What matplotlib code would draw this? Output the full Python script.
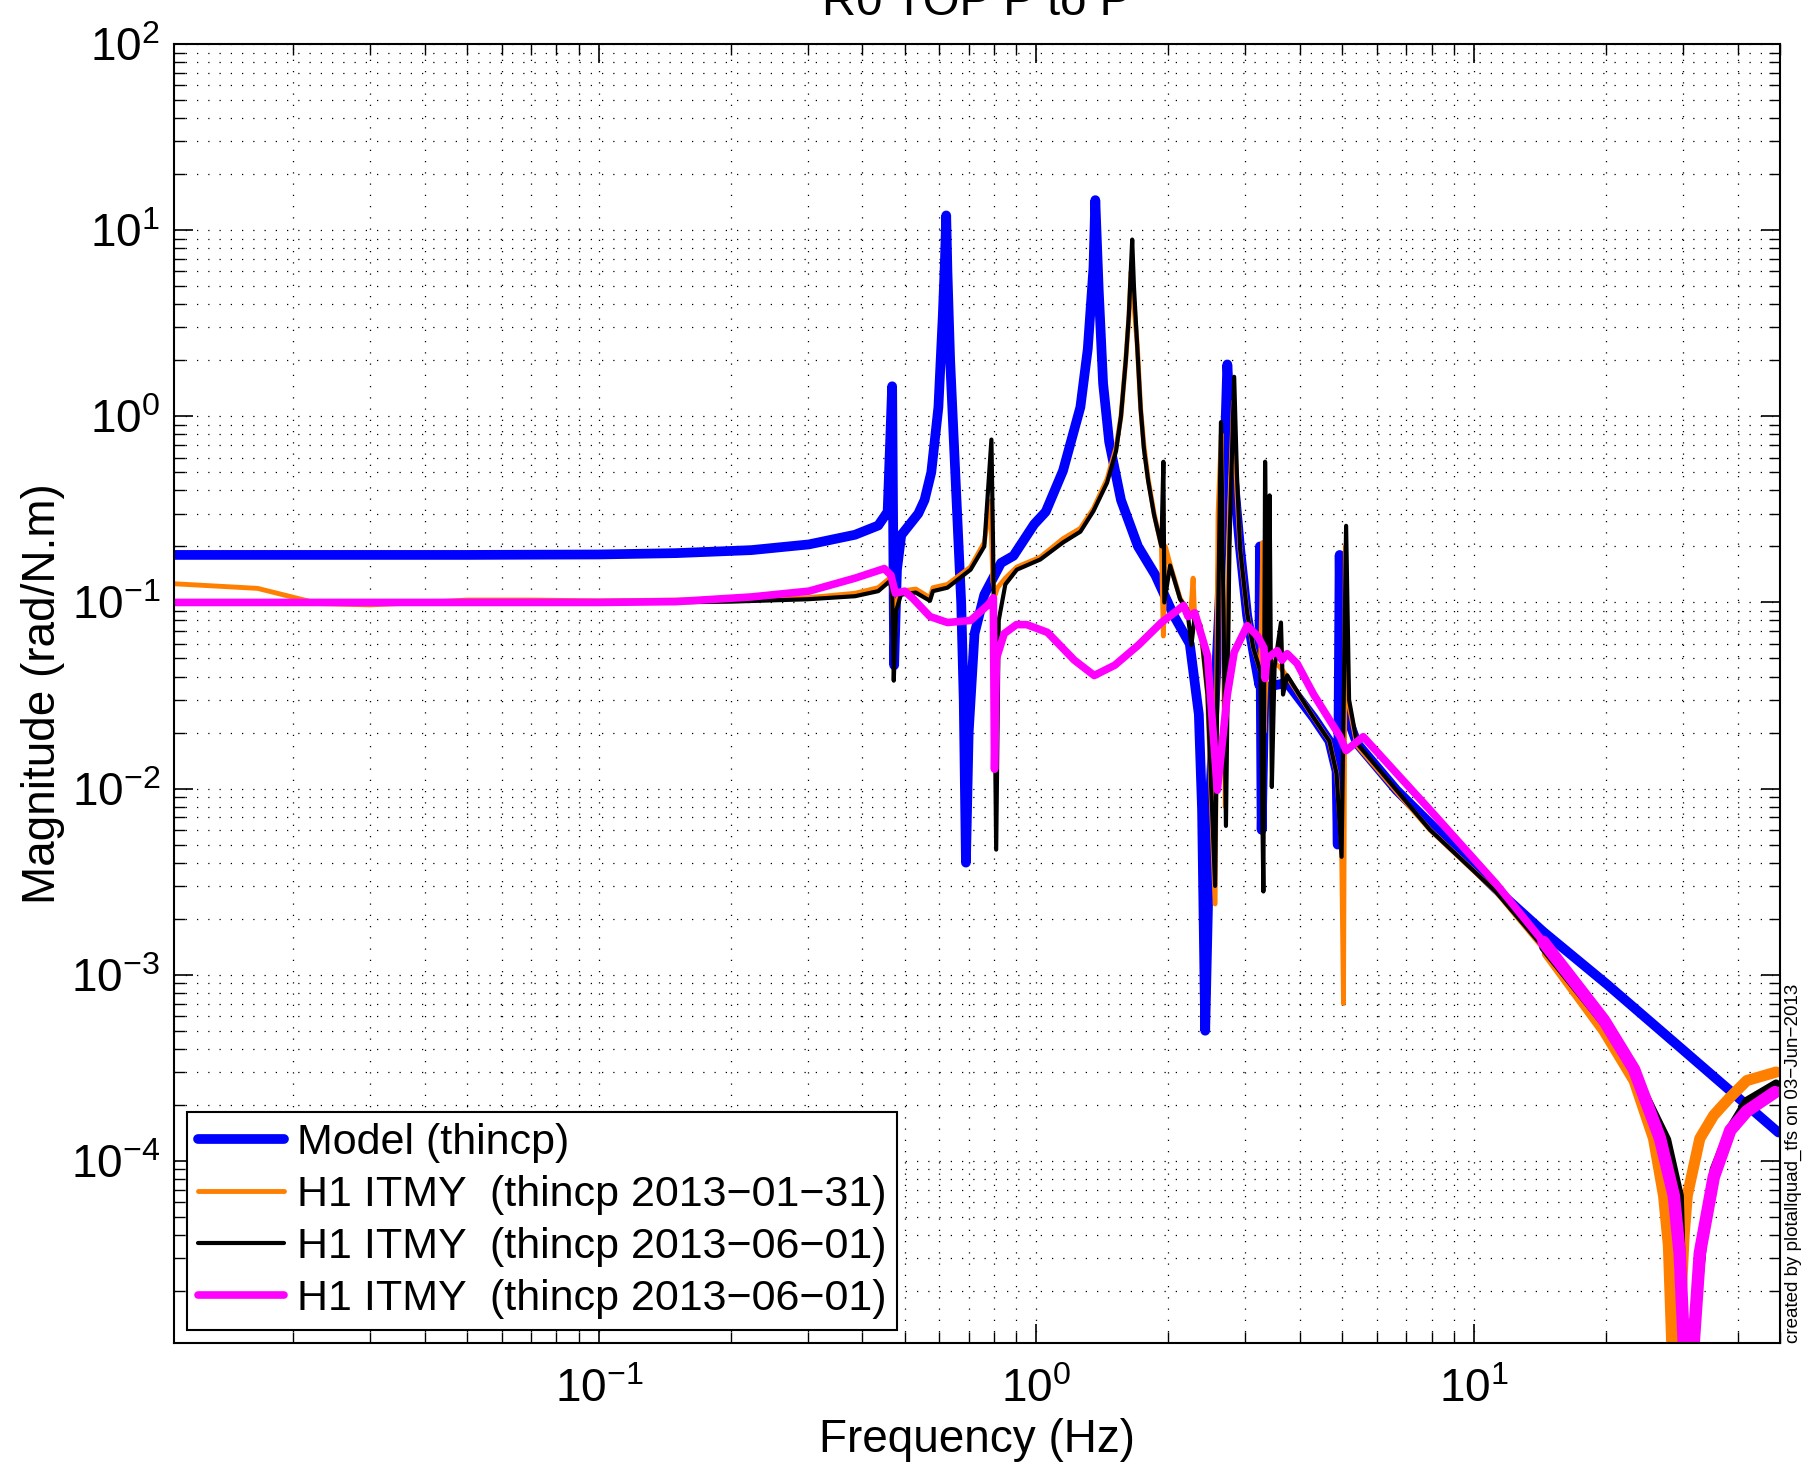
import matplotlib.pyplot as plt
from matplotlib.ticker import LogLocator, NullFormatter

plt.rcParams['font.family'] = ['Liberation Sans', 'DejaVu Sans']
plt.rcParams['mathtext.fontset'] = 'custom'
plt.rcParams['mathtext.rm'] = 'Liberation Sans'

# Model (thincp)
model_freq = [0.0107, 0.05, 0.1, 0.15, 0.223, 0.302, 0.385, 0.435, 0.457, 0.468, 0.473,
              0.48, 0.491, 0.537, 0.555, 0.575, 0.597, 0.611, 0.618, 0.622, 0.626, 0.635,
              0.65, 0.673, 0.682, 0.69, 0.70, 0.722, 0.76, 0.83, 0.886, 0.988, 1.05, 1.15,
              1.26, 1.31, 1.35, 1.363, 1.388, 1.42, 1.466, 1.56, 1.706, 1.87, 2.06, 2.24,
              2.35, 2.39, 2.43, 2.5, 2.62, 2.70, 2.73, 2.78, 2.83, 2.92, 3.03, 3.15,
              3.23, 3.24, 3.27, 3.32, 3.74, 4.3, 4.67, 4.85, 4.88, 4.93, 4.97, 5.4,
              6.65, 7.93, 11.2, 14.4, 20.1, 30.0, 49.6]
model_mag = [0.18, 0.18, 0.181, 0.184, 0.191, 0.205, 0.231, 0.259, 0.307, 1.45, 0.046,
             0.15, 0.23, 0.30, 0.355, 0.5, 1.12, 3.5, 7.0, 12.0, 6.0, 2.0,
             0.6, 0.1, 0.03, 0.004, 0.02, 0.068, 0.11, 0.163, 0.178, 0.263, 0.307, 0.51,
             1.12, 2.3, 6.3, 14.5, 4.7, 1.5, 0.73, 0.355, 0.2, 0.14, 0.085, 0.06,
             0.025, 0.0077, 0.0005, 0.01, 0.1, 0.8, 1.9, 0.9, 0.44, 0.194, 0.085, 0.05,
             0.036, 0.2, 0.006, 0.035, 0.037, 0.024, 0.018, 0.0124, 0.005, 0.18, 0.03, 0.0175,
             0.0098, 0.0065, 0.0029, 0.0017, 8.9e-4, 3.95e-4, 1.42e-4]

# H1 ITMY (thincp 2013-01-31)
jan_freq = [0.0107, 0.0166, 0.0229, 0.03, 0.04, 0.05, 0.07, 0.1, 0.15, 0.2, 0.3,
            0.385, 0.435, 0.462, 0.468, 0.473, 0.478, 0.49, 0.53, 0.571, 0.58, 0.626,
            0.707, 0.76, 0.785, 0.795, 0.805, 0.815, 0.849, 0.902, 1.02, 1.15, 1.26,
            1.35, 1.45, 1.52, 1.56, 1.60, 1.626, 1.645, 1.67, 1.70, 1.73, 1.76, 1.80,
            1.857, 1.93, 1.95, 1.97, 2.02, 2.13, 2.25, 2.28, 2.30, 2.37, 2.46, 2.56,
            2.60, 2.645, 2.70, 2.76, 2.82, 2.87, 2.92, 3.03, 3.13, 3.25, 3.29, 3.31,
            3.36, 3.6, 3.74, 4.3, 4.67, 4.85, 4.98, 5.03, 5.08, 5.15, 5.4, 6.65, 7.93,
            11.2, 14.7, 19.8, 23.2, 25.7, 27.1, 27.8, 28.4, 29.2, 30.2, 30.7, 32.8,
            35.3, 38.5, 42.0, 49.0]
jan_mag = [0.126, 0.119, 0.0986, 0.097, 0.10, 0.103, 0.103, 0.102, 0.103, 0.104, 0.106,
           0.112, 0.12, 0.135, 0.12, 0.06, 0.10, 0.115, 0.118, 0.106, 0.12, 0.125,
           0.155, 0.21, 0.35, 0.13, 0.11, 0.12, 0.135, 0.155, 0.175, 0.22, 0.25,
           0.32, 0.46, 0.68, 1.0, 2.0, 3.4, 6.0, 4.0, 2.4, 1.1, 0.7, 0.46,
           0.3, 0.2, 0.066, 0.2, 0.16, 0.105, 0.085, 0.135, 0.08, 0.075, 0.032, 0.0024,
           0.3, 0.8, 0.008, 0.3, 1.2, 0.4, 0.19, 0.088, 0.057, 0.043, 0.21, 0.02,
           0.05, 0.045, 0.040, 0.024, 0.018, 0.012, 0.005, 0.0007, 0.2, 0.03, 0.017, 0.0096, 0.006,
           0.0028, 0.0013, 5e-4, 2.7e-4, 1.32e-4, 6.5e-5, 3.5e-5, 8e-6, 8e-6, 4e-5, 6.5e-5, 1.32e-4,
           1.76e-4, 2.2e-4, 2.7e-4, 3.0e-4]

# H1 ITMY (thincp 2013-06-01)
jun_freq = [0.0107, 0.05, 0.1, 0.2, 0.3, 0.385, 0.435, 0.462, 0.468, 0.472, 0.478,
            0.49, 0.53, 0.571, 0.58, 0.626, 0.707, 0.76, 0.789, 0.796, 0.809, 0.82,
            0.849, 0.902, 1.02, 1.15, 1.26, 1.35, 1.45, 1.52, 1.56, 1.60, 1.626, 1.645,
            1.655, 1.67, 1.70, 1.73, 1.76, 1.80, 1.857, 1.93, 1.95, 1.96, 2.02, 2.13,
            2.21, 2.26, 2.30, 2.37, 2.46, 2.56, 2.60, 2.64, 2.675, 2.71, 2.76, 2.83,
            2.87, 2.92, 3.03, 3.13, 3.25, 3.30, 3.33, 3.37, 3.41, 3.45, 3.5, 3.62,
            3.66, 3.74, 4.3, 4.67, 4.85, 4.98, 5.10, 5.18, 5.4, 6.65, 7.93, 11.2,
            14.4, 19.8, 23.2, 27.6, 29.5, 30.2, 31.2, 33.5, 35.3, 38.5, 42.0, 49.0]
jun_mag = [0.099, 0.099, 0.099, 0.101, 0.104, 0.108, 0.115, 0.13, 0.115, 0.038, 0.09,
           0.11, 0.113, 0.102, 0.115, 0.12, 0.15, 0.2, 0.75, 0.2, 0.0047, 0.08,
           0.125, 0.15, 0.17, 0.21, 0.24, 0.31, 0.44, 0.65, 1.0, 2.0, 3.5, 6.5,
           8.9, 5.0, 2.33, 1.1, 0.67, 0.45, 0.295, 0.2, 0.57, 0.1, 0.158, 0.104,
           0.092, 0.059, 0.085, 0.075, 0.032, 0.003, 0.08, 0.93, 0.1, 0.0063, 0.2, 1.63,
           0.5, 0.194, 0.088, 0.057, 0.0425, 0.0028, 0.57, 0.04, 0.376, 0.0102, 0.045, 0.078,
           0.032, 0.0406, 0.024, 0.018, 0.012, 0.0043, 0.258, 0.03, 0.0175, 0.0098, 0.006, 0.0028,
           0.0014, 5.5e-4, 3.0e-4, 1.3e-4, 6.5e-5, 8e-6, 8e-6, 4e-5, 9e-5, 1.5e-4, 2.1e-4, 2.6e-4]

# H1 ITMY (thincp 2013-06-01), second measurement
jun2_freq = [0.0107, 0.05, 0.1, 0.15, 0.223, 0.302, 0.385, 0.449, 0.465, 0.476, 0.50,
             0.522, 0.571, 0.626, 0.707, 0.775, 0.797, 0.802, 0.81, 0.844, 0.90, 0.95,
             1.06, 1.22, 1.355, 1.51, 1.71, 1.93, 2.17, 2.22, 2.3, 2.46, 2.59, 2.73,
             2.83, 3.03, 3.20, 3.31, 3.33, 3.36, 3.55, 3.64, 3.74, 3.94, 4.3, 4.94,
             5.1, 5.58, 7.92, 11.2, 14.4, 19.8, 23.2, 26.6, 28.6, 29.5, 30.3, 31.5,
             32.8, 35.3, 38.5, 42.0, 48.7]
jun2_mag = [0.1, 0.1, 0.1, 0.101, 0.107, 0.115, 0.135, 0.152, 0.14, 0.112, 0.115,
            0.105, 0.084, 0.078, 0.08, 0.097, 0.106, 0.0127, 0.05, 0.068, 0.076, 0.076,
            0.069, 0.049, 0.0405, 0.046, 0.059, 0.078, 0.0963, 0.084, 0.088, 0.0516, 0.0098, 0.032,
            0.054, 0.075, 0.066, 0.057, 0.039, 0.05, 0.055, 0.049, 0.053, 0.047, 0.032, 0.019,
            0.016, 0.019, 0.0077, 0.0031, 0.0015, 5.7e-4, 3.1e-4, 1.32e-4, 6.5e-5, 3.2e-5, 8e-6, 8e-6,
            3.2e-5, 8.2e-5, 1.46e-4, 1.85e-4, 2.34e-4]

labels = ['Model (thincp)',
          'H1 ITMY  (thincp 2013\u221201\u221231)',
          'H1 ITMY  (thincp 2013\u221206\u221201)',
          'H1 ITMY  (thincp 2013\u221206\u221201)']

fig = plt.figure(figsize=(18.15, 14.72), dpi=100)
ax = fig.add_axes([0.0959, 0.0876, 0.8848, 0.8825])

style = dict(solid_joinstyle='round', solid_capstyle='round')
series = [(model_freq, model_mag, '#0000ff', 7, None),
          (jan_freq, jan_mag, '#ff7f00', 3.5, 8),
          (jun_freq, jun_mag, 'k', 3, 6),
          (jun2_freq, jun2_mag, '#ff00ff', 5.5, 9)]
for (fr, mg, col, lw, tail_lw), lab in zip(series, labels):
    ax.loglog(fr, mg, color=col, lw=lw, label=lab, **style)
    if tail_lw:
        # noisy high-frequency part shows as a wide band
        i0 = next(i for i, f in enumerate(fr) if f >= 14)
        ax.loglog(fr[i0:], mg[i0:], color=col, lw=tail_lw, **style)

ax.set_xlim(0.0107, 50)
ax.set_ylim(1.05e-5, 1e2)

ax.set_xticks([0.1, 1, 10])
ax.set_xticklabels([r'$\mathregular{10^{-1}}$', r'$\mathregular{10^{0}}$', r'$\mathregular{10^{1}}$'])
yt = [1e-4, 1e-3, 1e-2, 1e-1, 1, 10, 100]
ax.set_yticks(yt)
ax.set_yticklabels([r'$\mathregular{10^{%d}}$' % e for e in range(-4, 3)])
for axis in (ax.xaxis, ax.yaxis):
    axis.set_minor_locator(LogLocator(base=10, subs=range(2, 10), numticks=30))
    axis.set_minor_formatter(NullFormatter())

ax.grid(True, which='both', linestyle=(0, (1, 8)), color='k', lw=0.9)
ax.tick_params(which='both', direction='in', top=True, right=True, labelsize=33)
ax.tick_params(which='major', length=14, width=1.2)
ax.tick_params(axis='x', which='major', pad=18)
ax.tick_params(axis='y', which='major', pad=10)
ax.tick_params(which='minor', length=8, width=1)
for sp in ax.spines.values():
    sp.set_linewidth(1.5)

ax.set_xlabel('Frequency (Hz)', fontsize=33, labelpad=4)
ax.set_ylabel('Magnitude (rad/N.m)', fontsize=33, labelpad=4)
fig.text(0.5383, 1 - 15 / 1472, 'R0 TOP P to P', ha='center', va='baseline', fontsize=34)

leg = ax.legend(loc='lower left', fontsize=31, handlelength=2.0, handletextpad=0.3,
                labelspacing=0.28, borderpad=0.25, borderaxespad=0.3, fancybox=False,
                framealpha=1, edgecolor='k')
leg.get_frame().set_linewidth(1.5)

fig.text(0.988, 0.0876, 'created by plotallquad_tfs on 03\u2212Jun\u22122013', rotation=90,
         ha='center', va='bottom', fontsize=13.5)

fig.savefig('out.png', dpi=100)
